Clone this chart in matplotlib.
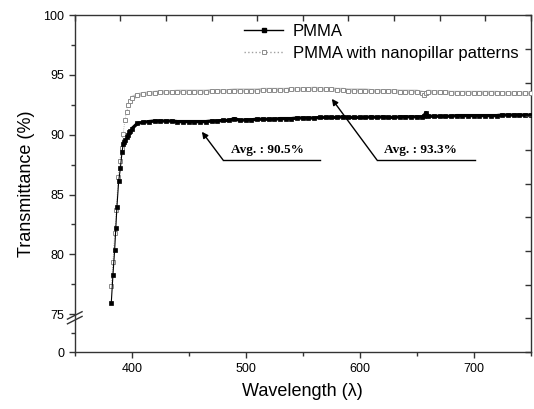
"""
Transmittance of flat PMMA vs PMMA with nanopillar patterns.
Broken y axis (0 | 75-100) drawn with a FuncScale.
"""

import numpy as np
import matplotlib

matplotlib.use("Agg")
import matplotlib.pyplot as plt
from matplotlib.lines import Line2D

plt.rcParams["font.family"] = ["Liberation Sans", "DejaVu Sans"]

# ---------------------------------------------------------------
# data
# ---------------------------------------------------------------
wl_edge_pmma = [382, 383.5, 385, 386, 387, 388.5, 390, 391.5, 392.5, 393.5,
                394.5, 395.5, 396.5, 397.5, 398.5]
tr_edge_pmma = [75.9, 78.3, 80.4, 82.2, 84.0, 86.1, 87.2, 88.6, 89.2, 89.4,
                89.6, 89.8, 90.0, 90.2, 90.35]

wl_edge_nano = [382, 383.5, 385, 386.5, 388, 389.5, 391, 392.5, 394, 395.5,
                397, 398.5]
tr_edge_nano = [77.4, 79.4, 81.8, 83.7, 86.5, 87.8, 88.9, 90.1, 91.25, 91.9,
                92.5, 92.85]

# 400 .. 750 nm, every 5 nm, plus the 656/658 glitch
wl_flat = [400, 405, 410, 415, 420, 425, 430, 435, 440, 445,
           450, 455, 460, 465, 470, 475, 480, 485, 490, 495,
           500, 505, 510, 515, 520, 525, 530, 535, 540, 545,
           550, 555, 560, 565, 570, 575, 580, 585, 590, 595,
           600, 605, 610, 615, 620, 625, 630, 635, 640, 645,
           650, 655, 656, 658, 660, 665, 670, 675, 680, 685,
           690, 695, 700, 705, 710, 715, 720, 725, 730, 735,
           740, 745, 750]
tr_flat_pmma = [90.5, 90.95, 91.05, 91.1, 91.15, 91.15, 91.15, 91.15, 91.1, 91.1,
                91.1, 91.1, 91.1, 91.1, 91.15, 91.15, 91.2, 91.2, 91.35, 91.2,
                91.25, 91.25, 91.3, 91.3, 91.3, 91.3, 91.35, 91.35, 91.35, 91.4,
                91.4, 91.4, 91.4, 91.45, 91.45, 91.45, 91.45, 91.5, 91.45, 91.45,
                91.45, 91.45, 91.5, 91.45, 91.5, 91.45, 91.45, 91.5, 91.5, 91.5,
                91.5, 91.5, 91.55, 91.85, 91.55, 91.55, 91.55, 91.55, 91.55, 91.6,
                91.6, 91.6, 91.6, 91.6, 91.6, 91.6, 91.6, 91.65, 91.65, 91.65,
                91.65, 91.65, 91.65]
tr_flat_nano = [93.05, 93.3, 93.4, 93.45, 93.5, 93.55, 93.55, 93.55, 93.6, 93.6,
                93.6, 93.6, 93.6, 93.6, 93.65, 93.65, 93.65, 93.65, 93.7, 93.7,
                93.7, 93.7, 93.7, 93.75, 93.75, 93.75, 93.75, 93.75, 93.8, 93.8,
                93.8, 93.8, 93.85, 93.8, 93.8, 93.8, 93.75, 93.75, 93.7, 93.7,
                93.7, 93.7, 93.65, 93.65, 93.65, 93.65, 93.65, 93.6, 93.6, 93.6,
                93.6, 93.5, 93.3, 93.45, 93.6, 93.55, 93.55, 93.55, 93.5, 93.5,
                93.5, 93.5, 93.5, 93.5, 93.5, 93.5, 93.5, 93.45, 93.45, 93.45,
                93.45, 93.45, 93.45]

labels = ["PMMA", "PMMA with nanopillar patterns"]
avg_texts = ["Avg. : 90.5%", "Avg. : 93.3%"]

y_ticks = [0, 75, 80, 85, 90, 95, 100]
y_minor = [37.5, 77.5, 82.5, 87.5, 92.5, 97.5]
x_ticks = [400, 500, 600, 700]
x_minor = [350, 450, 550, 650, 750]

wl_pmma = wl_edge_pmma + wl_flat
tr_pmma = tr_edge_pmma + tr_flat_pmma
wl_nano = wl_edge_nano + wl_flat
tr_nano = tr_edge_nano + tr_flat_nano

# ---------------------------------------------------------------
# broken y scale: 0..75 squeezed into a short strip
# ---------------------------------------------------------------
BREAK = 75.0
K = 3.17 / 75.0


def fwd(y):
    y = np.asarray(y, dtype=float)
    return np.where(y >= BREAK, y, BREAK - (BREAK - y) * K)


def inv(t):
    t = np.asarray(t, dtype=float)
    return np.where(t >= BREAK, t, BREAK - (BREAK - t) / K)


SPINE = "#333333"
GRAY_EDGE = "#8c8c8c"

fig = plt.figure(figsize=(5.34, 4.09), dpi=100)
ax = fig.add_axes([0.140, 0.139, 0.854, 0.824])

# dense-looking bands on the plateau (the original has a point every nm)
ax.plot(wl_flat, tr_flat_nano, color="#c4c4c4", lw=3.0, solid_capstyle="butt",
        zorder=2)
ax.plot(wl_flat, tr_flat_pmma, color="black", lw=2.4, solid_capstyle="butt",
        zorder=4)

# the measured points themselves
ax.plot(wl_nano, tr_nano, color="#a0a0a0", lw=0.6, ls=":",
        marker="s", ms=3.0, mfc="white", mec=GRAY_EDGE, mew=0.7, zorder=3)
ax.plot(wl_pmma, tr_pmma, color="black", lw=0.8, ls="-",
        marker="s", ms=3.0, mfc="black", mec="black", mew=0.5, zorder=4)

ax.set_yscale("function", functions=(fwd, inv))
ax.set_xlim(350, 750)
ax.set_ylim(0, 100)
ax.set_xticks(x_ticks)
ax.set_xticks(x_minor, minor=True)
ax.set_yticks(y_ticks)
ax.set_yticks(y_minor, minor=True)
ax.set_yticklabels([str(v) for v in y_ticks])

ax.tick_params(which="both", direction="out", colors=SPINE, labelcolor="black",
               labelsize=9, top=False, right=False)
ax.tick_params(which="major", length=4, width=1.0)
ax.tick_params(which="minor", length=3, width=1.0)
for s in ax.spines.values():
    s.set_color(SPINE)
    s.set_linewidth(1.0)

ax.set_xlabel("Wavelength (\u03bb)", fontsize=13, labelpad=6)
ax.set_ylabel("Transmittance (%)", fontsize=13, labelpad=6)

# top / right ticks: ten even divisions, inward, no labels
ov = fig.add_axes(ax.get_position(), frameon=False)
ov.set_xlim(0, 10)
ov.set_ylim(0, 10)
ov.set_xticks(range(11))
ov.set_yticks(range(11))
ov.tick_params(direction="in", length=4, width=1.0, colors=SPINE,
               top=True, right=True, bottom=False, left=False,
               labeltop=False, labelright=False,
               labelbottom=False, labelleft=False)
ov.patch.set_visible(False)

# break marks on left spine
yb = 0.095
for off in (0.0, 0.014):
    ax.plot([-0.016, 0.016], [yb - 0.011 + off, yb + 0.011 + off],
            transform=ax.transAxes, color=SPINE, lw=1.0, clip_on=False,
            zorder=6)

# legend (thin handles like the original)
handles = [
    Line2D([], [], color="black", lw=1.0, marker="s", ms=3.0,
           mfc="black", mec="black"),
    Line2D([], [], color="#a0a0a0", lw=1.0, ls=":", marker="s", ms=3.0,
           mfc="white", mec=GRAY_EDGE, mew=0.7),
]
ax.legend(handles, labels, loc="upper left", bbox_to_anchor=(0.372, 0.975),
          frameon=False, fontsize=12, handlelength=2.3, handletextpad=0.6,
          labelspacing=0.45, borderpad=0, borderaxespad=0, numpoints=1)

# average annotations
annot_font = dict(family=["Liberation Serif", "DejaVu Serif"],
                  fontweight="bold", fontsize=9.5)
arrow = dict(arrowstyle="-|>", color="black", lw=1.0,
             mutation_scale=9, shrinkA=0, shrinkB=0)

ax.annotate("", xy=(461.5, 90.25), xytext=(480, 87.9), arrowprops=arrow)
ax.plot([480, 565], [87.9, 87.9], color="black", lw=1.0)
ax.text(519, 88.75, avg_texts[0], ha="center", va="center", **annot_font)

ax.annotate("", xy=(575.5, 93.0), xytext=(615, 87.9), arrowprops=arrow)
ax.plot([615, 701], [87.9, 87.9], color="black", lw=1.0)
ax.text(653.5, 88.75, avg_texts[1], ha="center", va="center", **annot_font)

fig.savefig("out.png", dpi=100)
